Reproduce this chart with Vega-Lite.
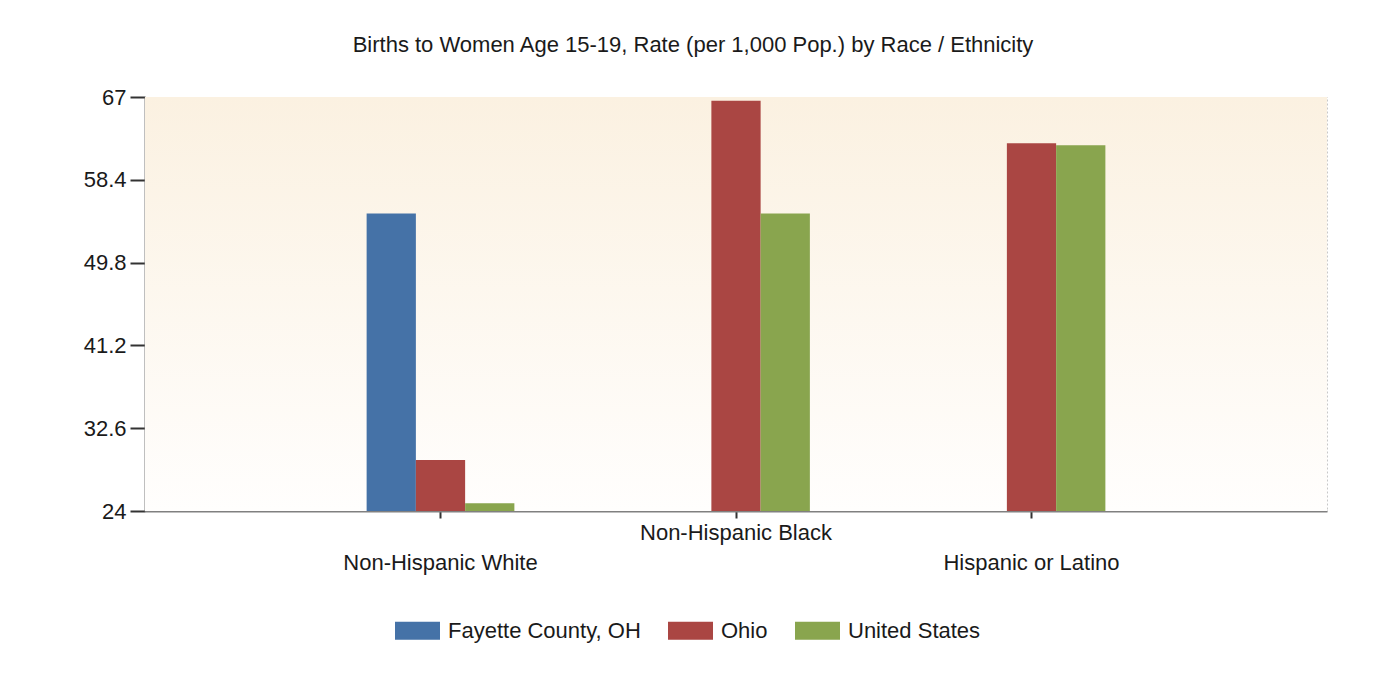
{
  "$schema": "https://vega.github.io/schema/vega-lite/v6.json",
  "autosize": "none",
  "width": 1182,
  "height": 414,
  "padding": {"left": 145, "top": 97, "right": 60, "bottom": 178},
  "background": "#ffffff",
  "title": {
    "text": "Births to Women Age 15-19, Rate (per 1,000 Pop.) by Race / Ethnicity",
    "font": "Liberation Sans",
    "fontSize": 22,
    "fontWeight": "normal",
    "color": "#1a1a1a",
    "anchor": "middle",
    "dx": -43,
    "offset": 29
  },
  "config": {
    "view": {"stroke": "#c8c8c8", "strokeDash": [2, 2], "strokeWidth": 1},
    "axis": {"labelFont": "Liberation Sans", "labelFontSize": 22, "labelColor": "#1a1a1a", "labelLimit": 500}
  },
  "layer": [
    {
      "data": {"values": [{"band": "background"}]},
      "mark": {
        "type": "rect",
        "color": {
          "gradient": "linear", "x1": 0, "y1": 0, "x2": 0, "y2": 1,
          "stops": [{"offset": 0, "color": "#fbf1e1"}, {"offset": 1, "color": "#fffefd"}]
        }
      },
      "encoding": {
        "y": {"datum": 67, "type": "quantitative", "scale": {"domain": [24, 67], "zero": false, "nice": false}},
        "y2": {"datum": 24}
      }
    },
    {
      "data": {
        "values": [
          {"group": "Non-Hispanic White", "series": "Fayette County, OH", "rate": 54.9},
          {"group": "Non-Hispanic White", "series": "Ohio", "rate": 29.3},
          {"group": "Non-Hispanic White", "series": "United States", "rate": 24.8},
          {"group": "Non-Hispanic Black", "series": "Ohio", "rate": 66.6},
          {"group": "Non-Hispanic Black", "series": "United States", "rate": 54.9},
          {"group": "Hispanic or Latino", "series": "Ohio", "rate": 62.2},
          {"group": "Hispanic or Latino", "series": "United States", "rate": 62.0}
        ]
      },
      "mark": {"type": "bar", "clip": true},
      "encoding": {
        "x": {
          "field": "group", "type": "nominal",
          "sort": ["Non-Hispanic White", "Non-Hispanic Black", "Hispanic or Latino"],
          "scale": {"paddingInner": 0.5, "paddingOuter": 0.75},
          "axis": {
            "title": null,
            "labelAngle": 0,
            "domainColor": "#808080",
            "domainWidth": 2,
            "tickColor": "#333333",
            "tickSize": 7,
            "tickWidth": 2,
            "grid": true,
            "gridColor": "#bdbdbd",
            "gridDash": [2, 2],
            "labelPadding": 4,
            "labelBaseline": "top",
            "labelLineHeight": 30,
            "labelExpr": "datum.value == 'Non-Hispanic Black' ? datum.value : ['', datum.value]"
          }
        },
        "xOffset": {
          "field": "series", "type": "nominal",
          "sort": ["Fayette County, OH", "Ohio", "United States"],
          "scale": {"domain": ["Fayette County, OH", "Ohio", "United States"], "paddingInner": 0, "paddingOuter": 0}
        },
        "y": {
          "field": "rate", "type": "quantitative",
          "scale": {"domain": [24, 67], "zero": false, "nice": false},
          "axis": {
            "title": null,
            "values": [24, 32.6, 41.2, 49.8, 58.4, 67],
            "format": ".1~f",
            "domainColor": "#808080",
            "domainWidth": 2,
            "tickColor": "#333333",
            "tickSize": 15,
            "tickWidth": 2,
            "gridColor": "#d3d3d3",
            "gridWidth": 1.5,
            "labelPadding": 4
          }
        },
        "y2": {"datum": 24},
        "color": {
          "field": "series", "type": "nominal",
          "scale": {
            "domain": ["Fayette County, OH", "Ohio", "United States"],
            "range": ["#4572a7", "#aa4643", "#89a54e"]
          },
          "legend": {
            "title": null,
            "orient": "none",
            "direction": "horizontal",
            "legendX": 250,
            "legendY": 511,
            "symbolType": "M-1,-0.4L1,-0.4L1,0.4L-1,0.4Z",
            "symbolSize": 2025,
            "symbolStrokeWidth": 0,
            "symbolOpacity": 1,
            "labelFont": "Liberation Sans",
            "labelFontSize": 22,
            "labelColor": "#1a1a1a",
            "labelLimit": 500,
            "labelOffset": 8,
            "columnPadding": 27
          }
        }
      }
    }
  ]
}
